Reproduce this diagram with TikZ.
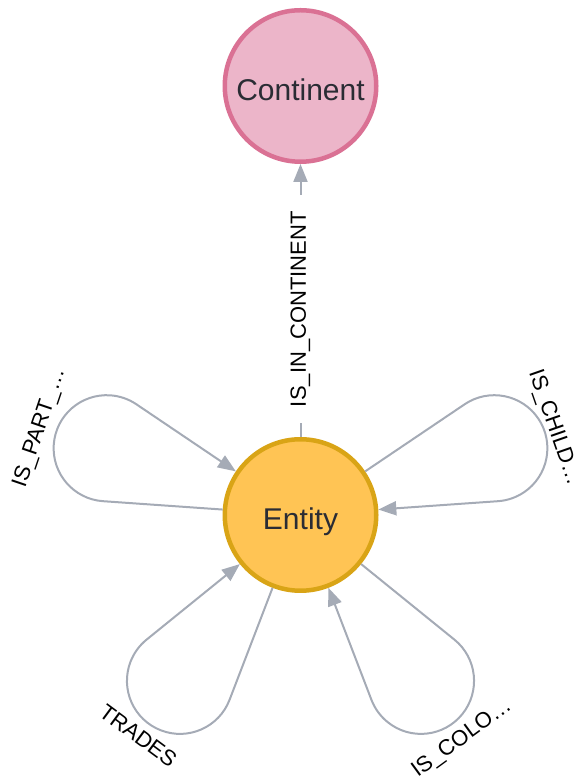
\documentclass[tikz,border=0pt]{standalone}
\usepackage{fontspec}
\setmainfont{Liberation Sans}
\usetikzlibrary{arrows.meta,calc}
\definecolor{edgec}{HTML}{A5ABB6}
\definecolor{pinkfill}{HTML}{ECB5C9}
\definecolor{pinkborder}{HTML}{DA7194}
\definecolor{yellowfill}{HTML}{FFC454}
\definecolor{yellowborder}{HTML}{D9A416}
\definecolor{nodetext}{HTML}{2A2C34}
\tikzset{
  nodecirc/.style={circle, line width=4.5pt, minimum size=151.5pt, inner sep=0pt,
    text=nodetext, font=\fontsize{30}{36}\selectfont, text height=29pt, text depth=0pt},
  edgeline/.style={draw=edgec, line width=2pt, -{Triangle[length=18pt,width=14pt]}},
  elabel/.style={text=black, font=\fontsize{22}{26}\selectfont, inner sep=0pt}
}
\newcommand{\selfloop}[1]{%
  \pgfmathtruncatemacro{\angA}{#1+15}%
  \pgfmathtruncatemacro{\angB}{#1-15}%
  \pgfmathtruncatemacro{\arcA}{#1+105}%
  \pgfmathtruncatemacro{\arcB}{#1-105}%
  \draw[edgeline] (E.\angA) -- ($(E.center)+(\angA:198)$)
    arc[start angle=\arcA, end angle=\arcB, radius=53.06] -- (E.\angB);}
\begin{document}
\begin{tikzpicture}[x=1pt,y=1pt]
\useasboundingbox (0,0) rectangle (580,781);
\node[nodecirc, fill=pinkfill, draw=pinkborder] (C) at (300.5,695) {Continent};
\node[nodecirc, fill=yellowfill, draw=yellowborder] (E) at (300.5,266) {Entity};
\draw[edgeline] (E.north) -- node[pos=0.468, fill=white, rotate=90, elabel,
  inner xsep=16pt, inner ysep=2pt] (lcont) {IS\_IN\_CONTINENT} (C.south);
\selfloop{161}
\selfloop{19}
\selfloop{234}
\selfloop{306}
\node[elabel, rotate=71.3] (lpart) at ($(E.center)+(161.5:275)$) {IS\_PART\_…};
\node[elabel, rotate=-70.8] (lchild) at ($(E.center)+(19:268)$) {IS\_CHILD…};
\node[elabel, rotate=-36.5] (ltrades) at ($(E.center)+(233.7:274)$) {TRADES};
\node[elabel, rotate=36.2] (lcolo) at ($(E.center)+(305.8:276)$) {IS\_COLO…};
\end{tikzpicture}
\end{document}
